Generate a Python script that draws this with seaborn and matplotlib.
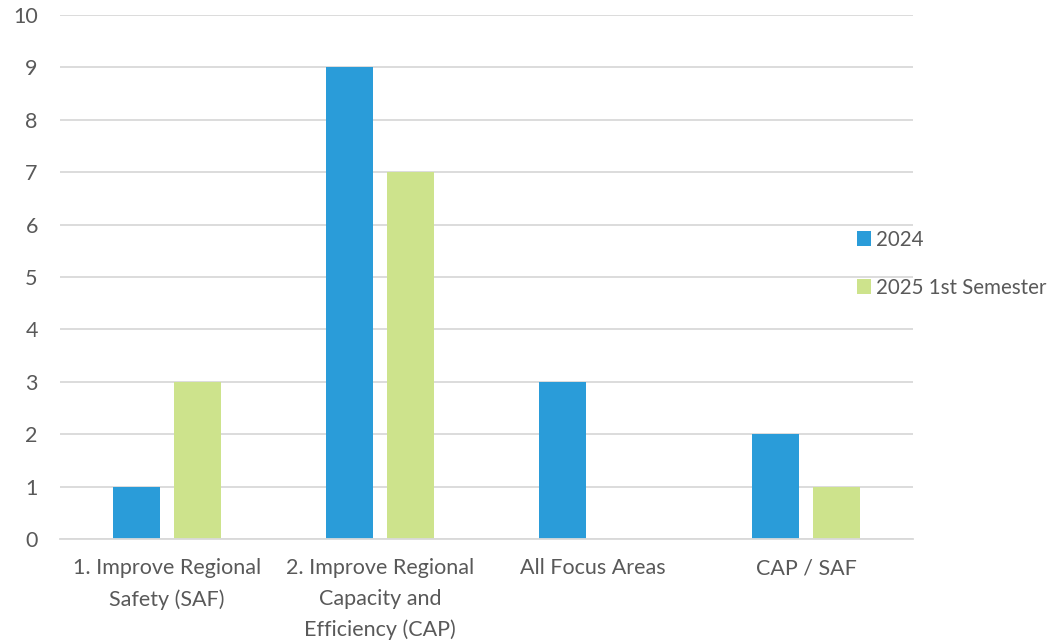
import matplotlib
matplotlib.use("Agg")
import matplotlib.pyplot as plt
import pandas as pd
import seaborn as sns

# Data
categories = [
    "1. Improve Regional\nSafety (SAF)",
    "2. Improve Regional\nCapacity and\nEfficiency (CAP)",
    "All Focus Areas",
    "CAP / SAF",
]
series_names = ["2024", "2025 1st Semester"]
values_2024 = [1, 9, 3, 2]
values_2025 = [3, 7, 0, 1]
colors = ["#2A9CD9", "#CDE38C"]

df = pd.DataFrame({
    "category": categories * 2,
    "series": [series_names[0]] * 4 + [series_names[1]] * 4,
    "value": values_2024 + values_2025,
})

sns.set_theme(style="white")
plt.rcParams["font.family"] = ["Lato", "DejaVu Sans"]
text_color = "#595959"
fs = 15.5

fig = plt.figure(figsize=(10.58, 6.43), dpi=100)
ax = fig.add_axes([0.0567, 0.1617, 0.8063, 0.815])

sns.barplot(data=df, x="category", y="value", hue="series",
            palette=colors, width=0.572, gap=0.23, saturation=1,
            linewidth=0, ax=ax, legend=True)

ax.set_ylim(0, 10)
ax.set_yticks(range(0, 11))
ax.set_xlim(-0.5, 3.5)
ax.yaxis.grid(True, color="#D9D9D9", linewidth=1.3)
ax.set_axisbelow(True)
for side in ["top", "right", "left"]:
    ax.spines[side].set_visible(False)
ax.spines["bottom"].set_color("#D9D9D9")
ax.spines["bottom"].set_linewidth(1.3)
ax.tick_params(axis="both", length=0, colors=text_color, labelsize=fs)
ax.tick_params(axis="y", pad=16)
ax.tick_params(axis="x", pad=14)
for lbl in ax.get_xticklabels():
    lbl.set_linespacing(1.65)
    lbl.set_horizontalalignment("center")
ax.set_xlabel("")
ax.set_ylabel("")

handles, labels = ax.get_legend_handles_labels()
ax.legend(handles, labels, loc="center left", bbox_to_anchor=(0.7925, 0.59),
          bbox_transform=fig.transFigure, frameon=False, fontsize=14.8,
          labelcolor=text_color, handlelength=0.7, handleheight=0.7,
          handletextpad=0.25, labelspacing=1.35)

fig.savefig("out.png", dpi=100)
